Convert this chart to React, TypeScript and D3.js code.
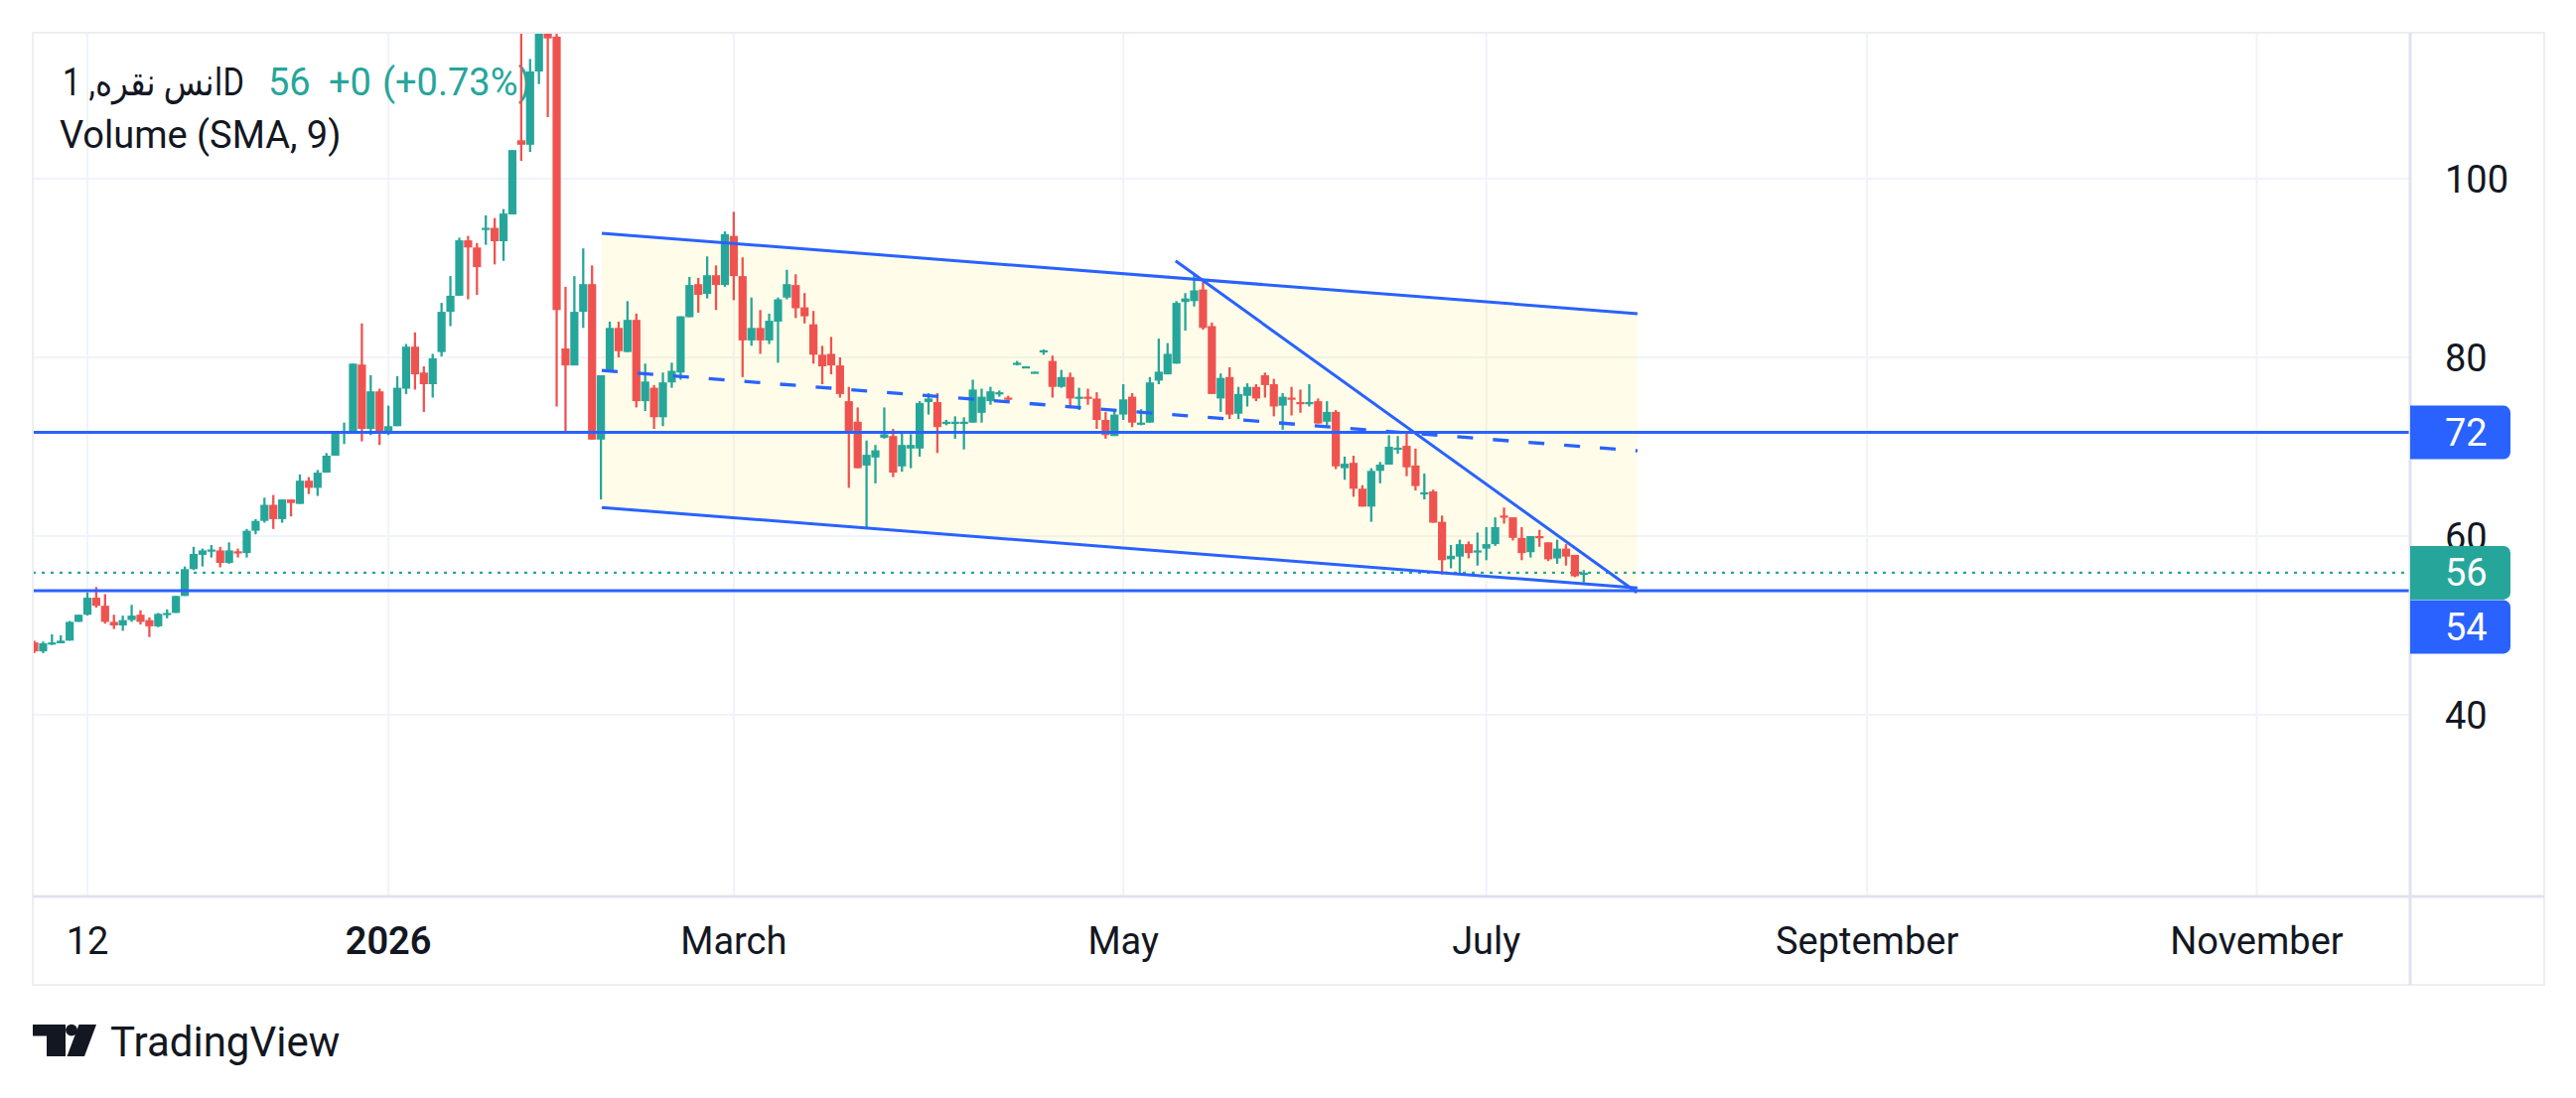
import React, { useEffect, useRef } from 'react';
import * as d3 from 'd3';

// daily candles (first bar is partly cut by the left edge)
const opens = [
  48.1, 47.1, 47.9, 48.0, 48.3, 50.4, 51.2, 53.1, 52.2, 50.4, 50.0, 50.6, 51.2, 50.6, 49.9, 51.3,
  51.4, 53.3, 56.3, 57.9, 58.4, 58.4, 57.0, 58.3, 58.1, 60.6, 61.7, 63.5, 61.9, 64.1, 63.6, 66.2,
  65.4, 67.1, 69.0, 71.5, 71.7, 79.2, 72.0, 76.2, 71.6, 72.3, 76.5, 81.2, 78.3, 77.0, 80.6, 85.1,
  86.9, 93.1, 92.3, 94.3, 94.5, 93.0, 96.0, 104.3, 103.8, 112.0, 119.0, 115.9, 81.0, 79.1, 85.1, 88.2,
  70.8, 78.4, 83.3, 80.6, 84.2, 75.1, 76.6, 73.3, 77.2, 78.3, 84.5, 88.2, 87.1, 89.2, 88.1, 93.6,
  89.1, 81.9, 83.3, 81.9, 84.0, 86.7, 88.1, 85.6, 83.7, 80.3, 80.4, 79.1, 75.1, 72.8, 67.9, 68.8,
  71.0, 71.2, 67.8, 69.8, 69.8, 75.0, 75.0, 72.6, 72.7, 72.7, 72.7, 73.8, 75.1, 76.0, 75.5, 79.2,
  78.8, 78.2, 80.6, 79.6, 76.7, 77.8, 75.5, 75.6, 75.4, 73.0, 71.2, 73.6, 75.6, 72.6, 72.7, 77.4,
  78.1, 79.3, 86.2, 86.3, 87.6, 83.5, 75.4, 77.8, 73.7, 75.7, 76.7, 78.0, 77.0, 74.6, 75.5, 75.0,
  74.9, 75.1, 72.8, 73.9, 67.6, 68.2, 65.3, 63.3, 67.3, 68.0, 69.8, 70.1, 67.9, 64.8, 65.0, 61.6,
  57.4, 57.7, 59.1, 58.3, 58.6, 59.1, 62.3, 62.1, 59.8, 58.2, 60.0, 59.3, 57.5, 58.6, 57.9, 55.8,
];
const highs = [
  48.3, 48.2, 49.0, 48.9, 50.5, 51.2, 53.7, 54.3, 53.5, 51.2, 51.1, 52.3, 51.7, 50.9, 51.4, 51.8,
  53.3, 56.6, 58.8, 58.6, 59.0, 58.8, 59.3, 58.6, 60.8, 61.9, 64.3, 64.6, 64.1, 64.1, 66.9, 66.6,
  67.4, 69.3, 71.7, 72.7, 79.3, 83.8, 78.0, 76.5, 74.6, 77.9, 81.5, 82.8, 79.0, 80.4, 86.1, 89.1,
  93.4, 93.6, 92.8, 95.9, 95.6, 96.6, 103.2, 117.5, 113.4, 118.5, 120.0, 117.5, 87.9, 89.1, 92.2, 90.3,
  78.0, 84.0, 84.0, 86.3, 84.9, 79.3, 76.9, 78.3, 79.4, 84.6, 89.0, 88.9, 91.3, 90.3, 94.1, 96.3,
  91.2, 86.7, 85.3, 84.9, 86.7, 89.8, 89.3, 87.2, 85.2, 81.3, 82.3, 80.0, 76.7, 74.4, 70.7, 70.2,
  74.4, 72.0, 71.5, 71.4, 75.1, 76.0, 76.0, 73.0, 73.4, 73.3, 77.5, 76.5, 76.7, 76.3, 75.7, 79.6,
  79.0, 78.4, 80.9, 80.2, 78.6, 78.3, 76.6, 76.5, 76.1, 73.9, 74.0, 77.0, 76.0, 74.2, 77.8, 82.1,
  81.6, 86.3, 87.2, 89.4, 88.5, 83.9, 78.2, 78.9, 76.7, 77.1, 77.0, 78.3, 77.6, 76.0, 76.7, 76.4,
  77.0, 75.4, 75.1, 74.1, 68.9, 69.0, 65.7, 67.6, 68.3, 71.3, 71.2, 71.6, 69.8, 67.0, 65.2, 62.3,
  59.0, 59.6, 59.4, 60.4, 61.0, 62.1, 63.2, 62.1, 61.0, 60.0, 60.7, 59.3, 59.6, 59.1, 57.9, 56.2,
];
const lows = [
  46.9, 46.9, 47.8, 48.0, 48.3, 50.4, 51.1, 52.0, 50.2, 49.6, 49.4, 50.4, 50.1, 48.7, 49.8, 50.8,
  51.4, 53.3, 56.2, 56.6, 57.6, 56.5, 56.9, 57.6, 57.6, 60.2, 61.5, 60.8, 61.5, 62.2, 63.6, 64.7,
  64.5, 67.1, 69.0, 70.3, 71.7, 70.6, 71.3, 70.2, 71.3, 72.3, 75.9, 76.4, 73.9, 75.5, 80.1, 83.5,
  86.9, 86.5, 87.0, 92.6, 90.4, 90.8, 96.0, 102.0, 103.0, 110.6, 106.9, 74.5, 71.5, 79.1, 83.3, 70.8,
  64.1, 78.4, 80.0, 80.6, 74.4, 74.0, 72.0, 72.3, 76.6, 77.5, 84.5, 85.0, 86.6, 85.3, 87.9, 86.4,
  77.8, 81.3, 80.4, 81.5, 79.4, 86.5, 84.4, 83.8, 79.3, 77.0, 78.1, 75.5, 65.4, 67.6, 60.8, 65.9,
  70.9, 66.6, 67.2, 67.6, 68.9, 73.6, 69.3, 72.4, 70.9, 69.7, 72.7, 72.7, 74.7, 75.6, 75.1, 79.1,
  78.8, 78.2, 80.3, 75.5, 76.6, 74.3, 74.1, 74.7, 72.0, 70.9, 71.2, 73.0, 72.2, 72.4, 72.7, 77.0,
  78.1, 79.3, 83.0, 85.7, 83.1, 75.9, 73.9, 73.1, 73.1, 74.5, 75.1, 75.5, 73.4, 71.9, 73.5, 73.8,
  74.5, 72.6, 72.4, 67.5, 66.3, 64.4, 63.3, 61.6, 65.9, 68.0, 69.2, 66.7, 65.1, 64.1, 61.5, 55.7,
  56.4, 55.7, 57.5, 56.7, 57.3, 58.9, 61.4, 59.5, 57.3, 57.6, 58.8, 57.2, 56.9, 56.7, 55.4, 54.8,
];
const closes = [
  47.1, 48.0, 48.1, 48.3, 50.4, 51.2, 53.1, 52.2, 50.4, 50.0, 50.6, 51.1, 50.4, 49.9, 51.3, 51.4,
  53.3, 56.3, 58.0, 58.4, 58.5, 57.0, 58.4, 58.1, 60.6, 61.7, 63.5, 61.9, 64.1, 63.7, 66.2, 65.4,
  67.1, 69.0, 71.5, 71.7, 79.3, 72.0, 76.2, 71.5, 72.3, 76.6, 81.2, 78.1, 77.0, 79.9, 85.1, 86.9,
  93.1, 92.3, 90.1, 94.5, 93.0, 96.1, 103.2, 103.8, 112.0, 117.5, 115.7, 85.3, 79.1, 85.1, 88.2, 70.8,
  78.0, 83.3, 80.7, 84.2, 75.1, 77.3, 73.3, 77.2, 78.5, 84.6, 88.1, 87.0, 89.2, 88.1, 93.8, 89.1,
  81.9, 83.3, 81.9, 84.1, 86.5, 88.2, 85.5, 84.6, 80.3, 79.0, 79.1, 75.9, 71.7, 67.6, 69.1, 69.6,
  71.4, 67.1, 70.2, 70.2, 74.9, 75.4, 72.2, 72.8, 72.8, 72.8, 76.4, 75.6, 76.2, 76.1, 75.4, 79.4,
  79.0, 78.4, 80.8, 76.7, 77.8, 75.4, 75.6, 75.5, 73.0, 71.3, 73.6, 75.3, 72.7, 72.7, 77.2, 78.4,
  80.4, 86.1, 86.6, 87.5, 83.3, 75.9, 77.7, 73.6, 75.9, 76.7, 75.4, 76.9, 74.5, 75.6, 75.4, 74.9,
  75.0, 72.6, 73.9, 67.8, 68.1, 65.3, 63.3, 67.3, 68.0, 70.0, 69.9, 67.7, 65.6, 64.9, 61.5, 57.3,
  57.8, 59.1, 58.1, 58.4, 59.1, 61.0, 62.1, 59.8, 58.1, 60.0, 59.8, 57.4, 58.6, 57.7, 55.5, 55.9,
];

const tickLabels = ['12', '2026', 'March', 'May', 'July', 'September', 'November'];
const tickBars = [6, 40, 79, 123, 164, 207, 251];
const priceTicks = [100, 80, 60, 40];

// drawings: horizontal levels, parallel channel, falling wedge line
const levelPrices = [71.6, 53.9];
const channelBars = [64.1, 181.07];
const channelUpper = [93.9, 84.9];
const channelLower = [63.2, 54.2];
const wedgeBars = [128.9, 181.0];
const wedgePrices = [90.8, 53.7];

const title = 'انس نقره, 1D';
const legendValues = ['56', '+0', '(+0.73%)'];
const legendSecond = 'Volume (SMA, 9)';

const UP = '#26a69a';
const DOWN = '#ef5350';
const BLUE = '#2962ff';
const TEXT = '#131722';
const FONT = 'Roboto, "Noto Sans", "DejaVu Sans", sans-serif';

const App: React.FC = () => {
  const svgRef = useRef<SVGSVGElement>(null);

  useEffect(() => {
    document.body.style.margin = '0';
    if (!svgRef.current) return;
    const svg = d3.select(svgRef.current);
    svg.selectAll('*').remove();

    const width = 2594;
    const height = 1106;
    const plot = { left: 33, top: 33, right: 2427, bottom: 903 };
    const outerRight = 2562;
    const outerBottom = 992;

    // one bar every 8.916px
    const x = d3.scaleLinear().domain([0, 100]).range([34.5, 34.5 + 891.6]);
    const y = d3.scaleLinear().domain([40, 100]).range([720, 180]);

    svg.attr('width', width).attr('height', height);
    svg.append('rect').attr('width', width).attr('height', height).attr('fill', '#ffffff');

    svg
      .append('defs')
      .append('clipPath')
      .attr('id', 'plot-clip')
      .append('rect')
      .attr('x', plot.left)
      .attr('y', plot.top)
      .attr('width', plot.right - plot.left)
      .attr('height', plot.bottom - plot.top);

    const pane = svg.append('g').attr('clip-path', 'url(#plot-clip)');

    // grid
    pane
      .selectAll('line.vgrid')
      .data(tickBars)
      .enter()
      .append('line')
      .attr('x1', d => x(d))
      .attr('x2', d => x(d))
      .attr('y1', plot.top)
      .attr('y2', plot.bottom)
      .attr('stroke', '#f0f3fa')
      .attr('stroke-width', 2);

    pane
      .selectAll('line.hgrid')
      .data(priceTicks)
      .enter()
      .append('line')
      .attr('x1', plot.left)
      .attr('x2', plot.right)
      .attr('y1', d => y(d))
      .attr('y2', d => y(d))
      .attr('stroke', '#f0f3fa')
      .attr('stroke-width', 2);

    // legend sits under the bars
    pane
      .append('text')
      .attr('x', 63)
      .attr('y', 96)
      .attr('fill', TEXT)
      .attr('textLength', 183)
      .attr('lengthAdjust', 'spacingAndGlyphs')
      .style('font-family', FONT)
      .style('font-size', '38px')
      .text(title);
    const valueX = [270, 331, 385];
    legendValues.forEach((v, k) => {
      pane
        .append('text')
        .attr('x', valueX[k])
        .attr('y', 96)
        .attr('fill', UP)
        .style('font-family', FONT)
        .style('font-size', '38px')
        .text(v);
    });
    pane
      .append('text')
      .attr('x', 60)
      .attr('y', 149)
      .attr('fill', TEXT)
      .style('font-family', FONT)
      .style('font-size', '38px')
      .text(legendSecond);

    // channel background
    const channelPts: [number, number][] = [
      [x(channelBars[0]), y(channelUpper[0])],
      [x(channelBars[1]), y(channelUpper[1])],
      [x(channelBars[1]), y(channelLower[1])],
      [x(channelBars[0]), y(channelLower[0])],
    ];
    pane
      .append('polygon')
      .attr('points', channelPts.map(p => p.join(',')).join(' '))
      .attr('fill', '#ffeb3b')
      .attr('fill-opacity', 0.11);

    // last price line
    const lastClose = closes[closes.length - 1];
    pane
      .append('line')
      .attr('x1', plot.left)
      .attr('x2', plot.right)
      .attr('y1', y(lastClose))
      .attr('y2', y(lastClose))
      .attr('stroke', UP)
      .attr('stroke-width', 2.4)
      .attr('stroke-dasharray', '3 6');

    // candles
    const bars = opens.map((o, i) => ({ i, o, h: highs[i], l: lows[i], c: closes[i] }));
    const candle = pane
      .selectAll('g.candle')
      .data(bars)
      .enter()
      .append('g')
      .attr('fill', d => (d.c >= d.o ? UP : DOWN))
      .attr('stroke', d => (d.c >= d.o ? UP : DOWN));

    candle
      .append('line')
      .attr('x1', d => x(d.i))
      .attr('x2', d => x(d.i))
      .attr('y1', d => y(d.h))
      .attr('y2', d => y(d.l))
      .attr('stroke-width', 2.3);

    candle
      .append('rect')
      .attr('x', d => x(d.i) - 4.1)
      .attr('width', 8.2)
      .attr('y', d => y(Math.max(d.o, d.c)))
      .attr('height', d => Math.max(2.2, Math.abs(y(d.o) - y(d.c))))
      .attr('stroke', 'none');

    // horizontal levels
    pane
      .selectAll('line.level')
      .data(levelPrices)
      .enter()
      .append('line')
      .attr('x1', plot.left)
      .attr('x2', plot.right)
      .attr('y1', d => y(d))
      .attr('y2', d => y(d))
      .attr('stroke', BLUE)
      .attr('stroke-width', 3);

    // channel borders and dashed middle
    const seg = (bx: number[], py: number[]) => d3.line()([[x(bx[0]), y(py[0])], [x(bx[1]), y(py[1])]]);
    const channelMid = channelUpper.map((u, k) => (u + channelLower[k]) / 2);
    pane.append('path').attr('d', seg(channelBars, channelUpper)).attr('stroke', BLUE).attr('stroke-width', 3).attr('fill', 'none');
    pane.append('path').attr('d', seg(channelBars, channelLower)).attr('stroke', BLUE).attr('stroke-width', 3).attr('fill', 'none');
    pane
      .append('path')
      .attr('d', seg(channelBars, channelMid))
      .attr('stroke', BLUE)
      .attr('stroke-width', 3.3)
      .attr('stroke-dasharray', '16 20')
      .attr('fill', 'none');
    pane.append('path').attr('d', seg(wedgeBars, wedgePrices)).attr('stroke', BLUE).attr('stroke-width', 3).attr('fill', 'none');

    // frame and separators
    const frame = svg.append('g').attr('stroke', '#e0e3eb').attr('fill', 'none');
    frame.append('rect').attr('x', plot.left).attr('y', plot.top).attr('width', outerRight - plot.left).attr('height', outerBottom - plot.top).attr('stroke-width', 2).attr('stroke', '#eceef3');
    frame.append('line').attr('x1', plot.left).attr('x2', outerRight).attr('y1', plot.bottom).attr('y2', plot.bottom).attr('stroke-width', 3);
    frame.append('line').attr('x1', plot.right).attr('x2', plot.right).attr('y1', plot.top).attr('y2', outerBottom).attr('stroke-width', 3);

    // price axis
    svg
      .selectAll('text.price')
      .data(priceTicks)
      .enter()
      .append('text')
      .attr('x', 2462)
      .attr('y', d => y(d) + 13.5)
      .attr('fill', TEXT)
      .style('font-family', FONT)
      .style('font-size', '38px')
      .text(d => d);

    // axis price labels, pushed apart when they overlap
    const labels = [
      { p: levelPrices[0], color: BLUE },
      { p: lastClose, color: UP },
      { p: levelPrices[1], color: BLUE },
    ].sort((a, b) => b.p - a.p);
    const boxH = 54;
    let lastBottom = -Infinity;
    labels.forEach(lb => {
      let top = y(lb.p) - boxH / 2;
      if (top < lastBottom + 0.5) top = lastBottom + 0.5;
      lastBottom = top + boxH;
      const l = plot.right;
      const r = 2528;
      const rad = 7;
      const path = d3.path();
      path.moveTo(l, top);
      path.lineTo(r - rad, top);
      path.arcTo(r, top, r, top + rad, rad);
      path.lineTo(r, top + boxH - rad);
      path.arcTo(r, top + boxH, r - rad, top + boxH, rad);
      path.lineTo(l, top + boxH);
      path.closePath();
      svg.append('path').attr('d', path.toString()).attr('fill', lb.color);
      svg
        .append('text')
        .attr('x', 2462)
        .attr('y', top + boxH / 2 + 13.5)
        .attr('fill', '#ffffff')
        .style('font-family', FONT)
        .style('font-size', '38px')
        .text(Math.round(lb.p));
    });

    // time axis
    svg
      .selectAll('text.time')
      .data(tickLabels)
      .enter()
      .append('text')
      .attr('x', (d, k) => x(tickBars[k]))
      .attr('y', 961)
      .attr('text-anchor', 'middle')
      .attr('fill', TEXT)
      .style('font-family', FONT)
      .style('font-size', '38px')
      .style('font-weight', d => (d === '2026' ? 600 : 400))
      .text(d => d);

    // TradingView logo
    const logo = svg.append('g').attr('fill', TEXT);
    logo.append('path').attr('d', 'M33,1032 H66 V1064 H47 V1043.5 H33 Z');
    logo.append('circle').attr('cx', 72).attr('cy', 1037.6).attr('r', 5.9);
    logo.append('path').attr('d', 'M79.5,1032 H97 L85,1064 H67.5 Z');
    logo
      .append('text')
      .attr('x', 111)
      .attr('y', 1064)
      .style('font-family', FONT)
      .style('font-size', '42px')
      .text('TradingView');
  }, []);

  return <svg ref={svgRef} style={{ display: 'block' }}></svg>;
};

export default App;
